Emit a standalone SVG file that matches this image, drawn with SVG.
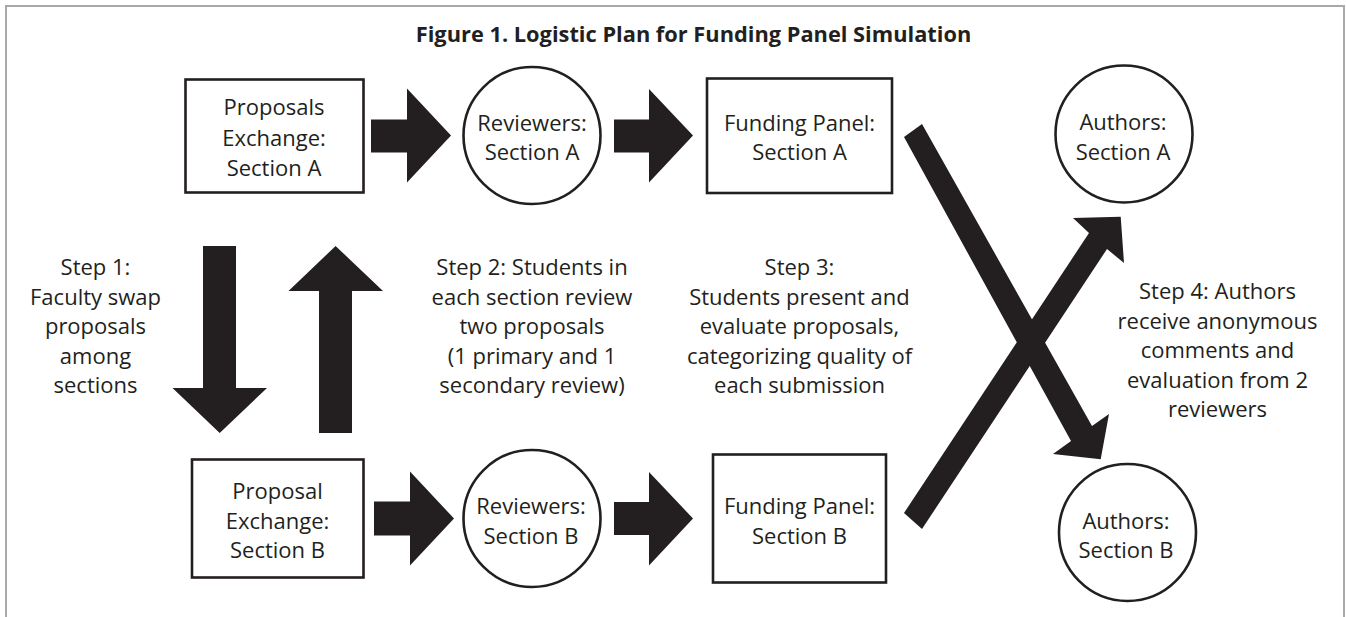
<svg xmlns="http://www.w3.org/2000/svg" width="1346" height="617" viewBox="0 0 1346 617">
<style>
.bg{fill:#ffffff}
.frame{fill:none;stroke:#a7a9ac;stroke-width:2}
.shape{fill:#ffffff;stroke:#231f20;stroke-width:2.6}
.t{font-family:"Open Sans","Noto Sans","Liberation Sans",sans-serif;font-size:22px;fill:#231f20;text-anchor:middle}
.title{font-family:"Open Sans","Noto Sans","Liberation Sans",sans-serif;font-size:21.8px;font-weight:bold;fill:#231f20;text-anchor:middle}
.arrow{fill:#231f20;stroke:none}
</style>
<rect class="bg" x="0" y="0" width="1346" height="617"/>
<path class="frame" d="M6,617 V6 H1344 V617"/>
<text class="title" x="693.5" y="42">Figure 1. Logistic Plan for Funding Panel Simulation</text>

<g id="connectors">
  <polygon class="arrow" points="371,119.5 407,119.5 407,88.5 451,135.5 407,182.5 407,152.5 371,152.5"/>
  <polygon class="arrow" points="614,119.5 649,119.5 649,89 693,135.5 649,182.5 649,152.5 614,152.5"/>
  <polygon class="arrow" points="374,501.5 410,501.5 410,471.5 454,518.5 410,565.5 410,535.5 374,535.5"/>
  <polygon class="arrow" points="614,502 649,502 649,472 693,518.5 649,565.5 649,535 614,535"/>
  <polygon class="arrow" points="203,246 236,246 236,388 267,388 219.7,433 172.5,388 203,388"/>
  <polygon class="arrow" points="319,433 352,433 352,291 383,291 335.6,246 288.5,291 319,291"/>
  <polygon class="arrow" points="904,137 1071,441 1053,454 1100.7,459.3 1109,414 1092,426 922,124"/>
  <polygon class="arrow" points="904,513 1089,233 1073,218 1120.7,216.7 1124,263 1107,249 922,529"/>
</g>

<g id="proposals-exchange-a">
  <rect class="shape" x="185.5" y="79.5" width="178" height="113"/>
  <text class="t" x="274" y="115">Proposals</text>
  <text class="t" x="274" y="145.5">Exchange:</text>
  <text class="t" x="274" y="175.5">Section A</text>
</g>
<g id="reviewers-a">
  <circle class="shape" cx="532" cy="135.5" r="68.5"/>
  <text class="t" x="532" y="131">Reviewers:</text>
  <text class="t" x="532" y="160">Section A</text>
</g>
<g id="funding-panel-a">
  <rect class="shape" x="707" y="78.5" width="185" height="114.5"/>
  <text class="t" x="799.5" y="131">Funding Panel:</text>
  <text class="t" x="799.5" y="160">Section A</text>
</g>
<g id="authors-a">
  <circle class="shape" cx="1124" cy="134" r="68.5"/>
  <text class="t" x="1123" y="130">Authors:</text>
  <text class="t" x="1123" y="159.5">Section A</text>
</g>

<g id="proposal-exchange-b">
  <rect class="shape" x="192" y="459.5" width="171.5" height="118"/>
  <text class="t" x="277.5" y="498.5">Proposal</text>
  <text class="t" x="277.5" y="528.5">Exchange:</text>
  <text class="t" x="277.5" y="558">Section B</text>
</g>
<g id="reviewers-b">
  <circle class="shape" cx="532" cy="518.5" r="68.5"/>
  <text class="t" x="531" y="513.5">Reviewers:</text>
  <text class="t" x="531" y="543.5">Section B</text>
</g>
<g id="funding-panel-b">
  <rect class="shape" x="713" y="454.5" width="173" height="128"/>
  <text class="t" x="799.5" y="513.5">Funding Panel:</text>
  <text class="t" x="799.5" y="543.5">Section B</text>
</g>
<g id="authors-b">
  <circle class="shape" cx="1127.5" cy="532.5" r="68.5"/>
  <text class="t" x="1126" y="528.5">Authors:</text>
  <text class="t" x="1126" y="557.5">Section B</text>
</g>

<g id="step-1">
  <text class="t" x="95.5" y="275">Step 1:</text>
  <text class="t" x="95.5" y="304.5">Faculty swap</text>
  <text class="t" x="95.5" y="334">proposals</text>
  <text class="t" x="95.5" y="363.5">among</text>
  <text class="t" x="95.5" y="393">sections</text>
</g>
<g id="step-2">
  <text class="t" x="532" y="275">Step 2: Students in</text>
  <text class="t" x="532" y="304.5">each section review</text>
  <text class="t" x="532" y="334">two proposals</text>
  <text class="t" x="532" y="363.5">(1 primary and 1</text>
  <text class="t" x="532" y="393">secondary review)</text>
</g>
<g id="step-3">
  <text class="t" x="799.5" y="275">Step 3:</text>
  <text class="t" x="799.5" y="304.5">Students present and</text>
  <text class="t" x="799.5" y="334">evaluate proposals,</text>
  <text class="t" x="799.5" y="363.5">categorizing quality of</text>
  <text class="t" x="799.5" y="393">each submission</text>
</g>
<g id="step-4">
  <text class="t" x="1217.5" y="299">Step 4: Authors</text>
  <text class="t" x="1217.5" y="328.5">receive anonymous</text>
  <text class="t" x="1217.5" y="358">comments and</text>
  <text class="t" x="1217.5" y="387.5">evaluation from 2</text>
  <text class="t" x="1217.5" y="417">reviewers</text>
</g>
</svg>
